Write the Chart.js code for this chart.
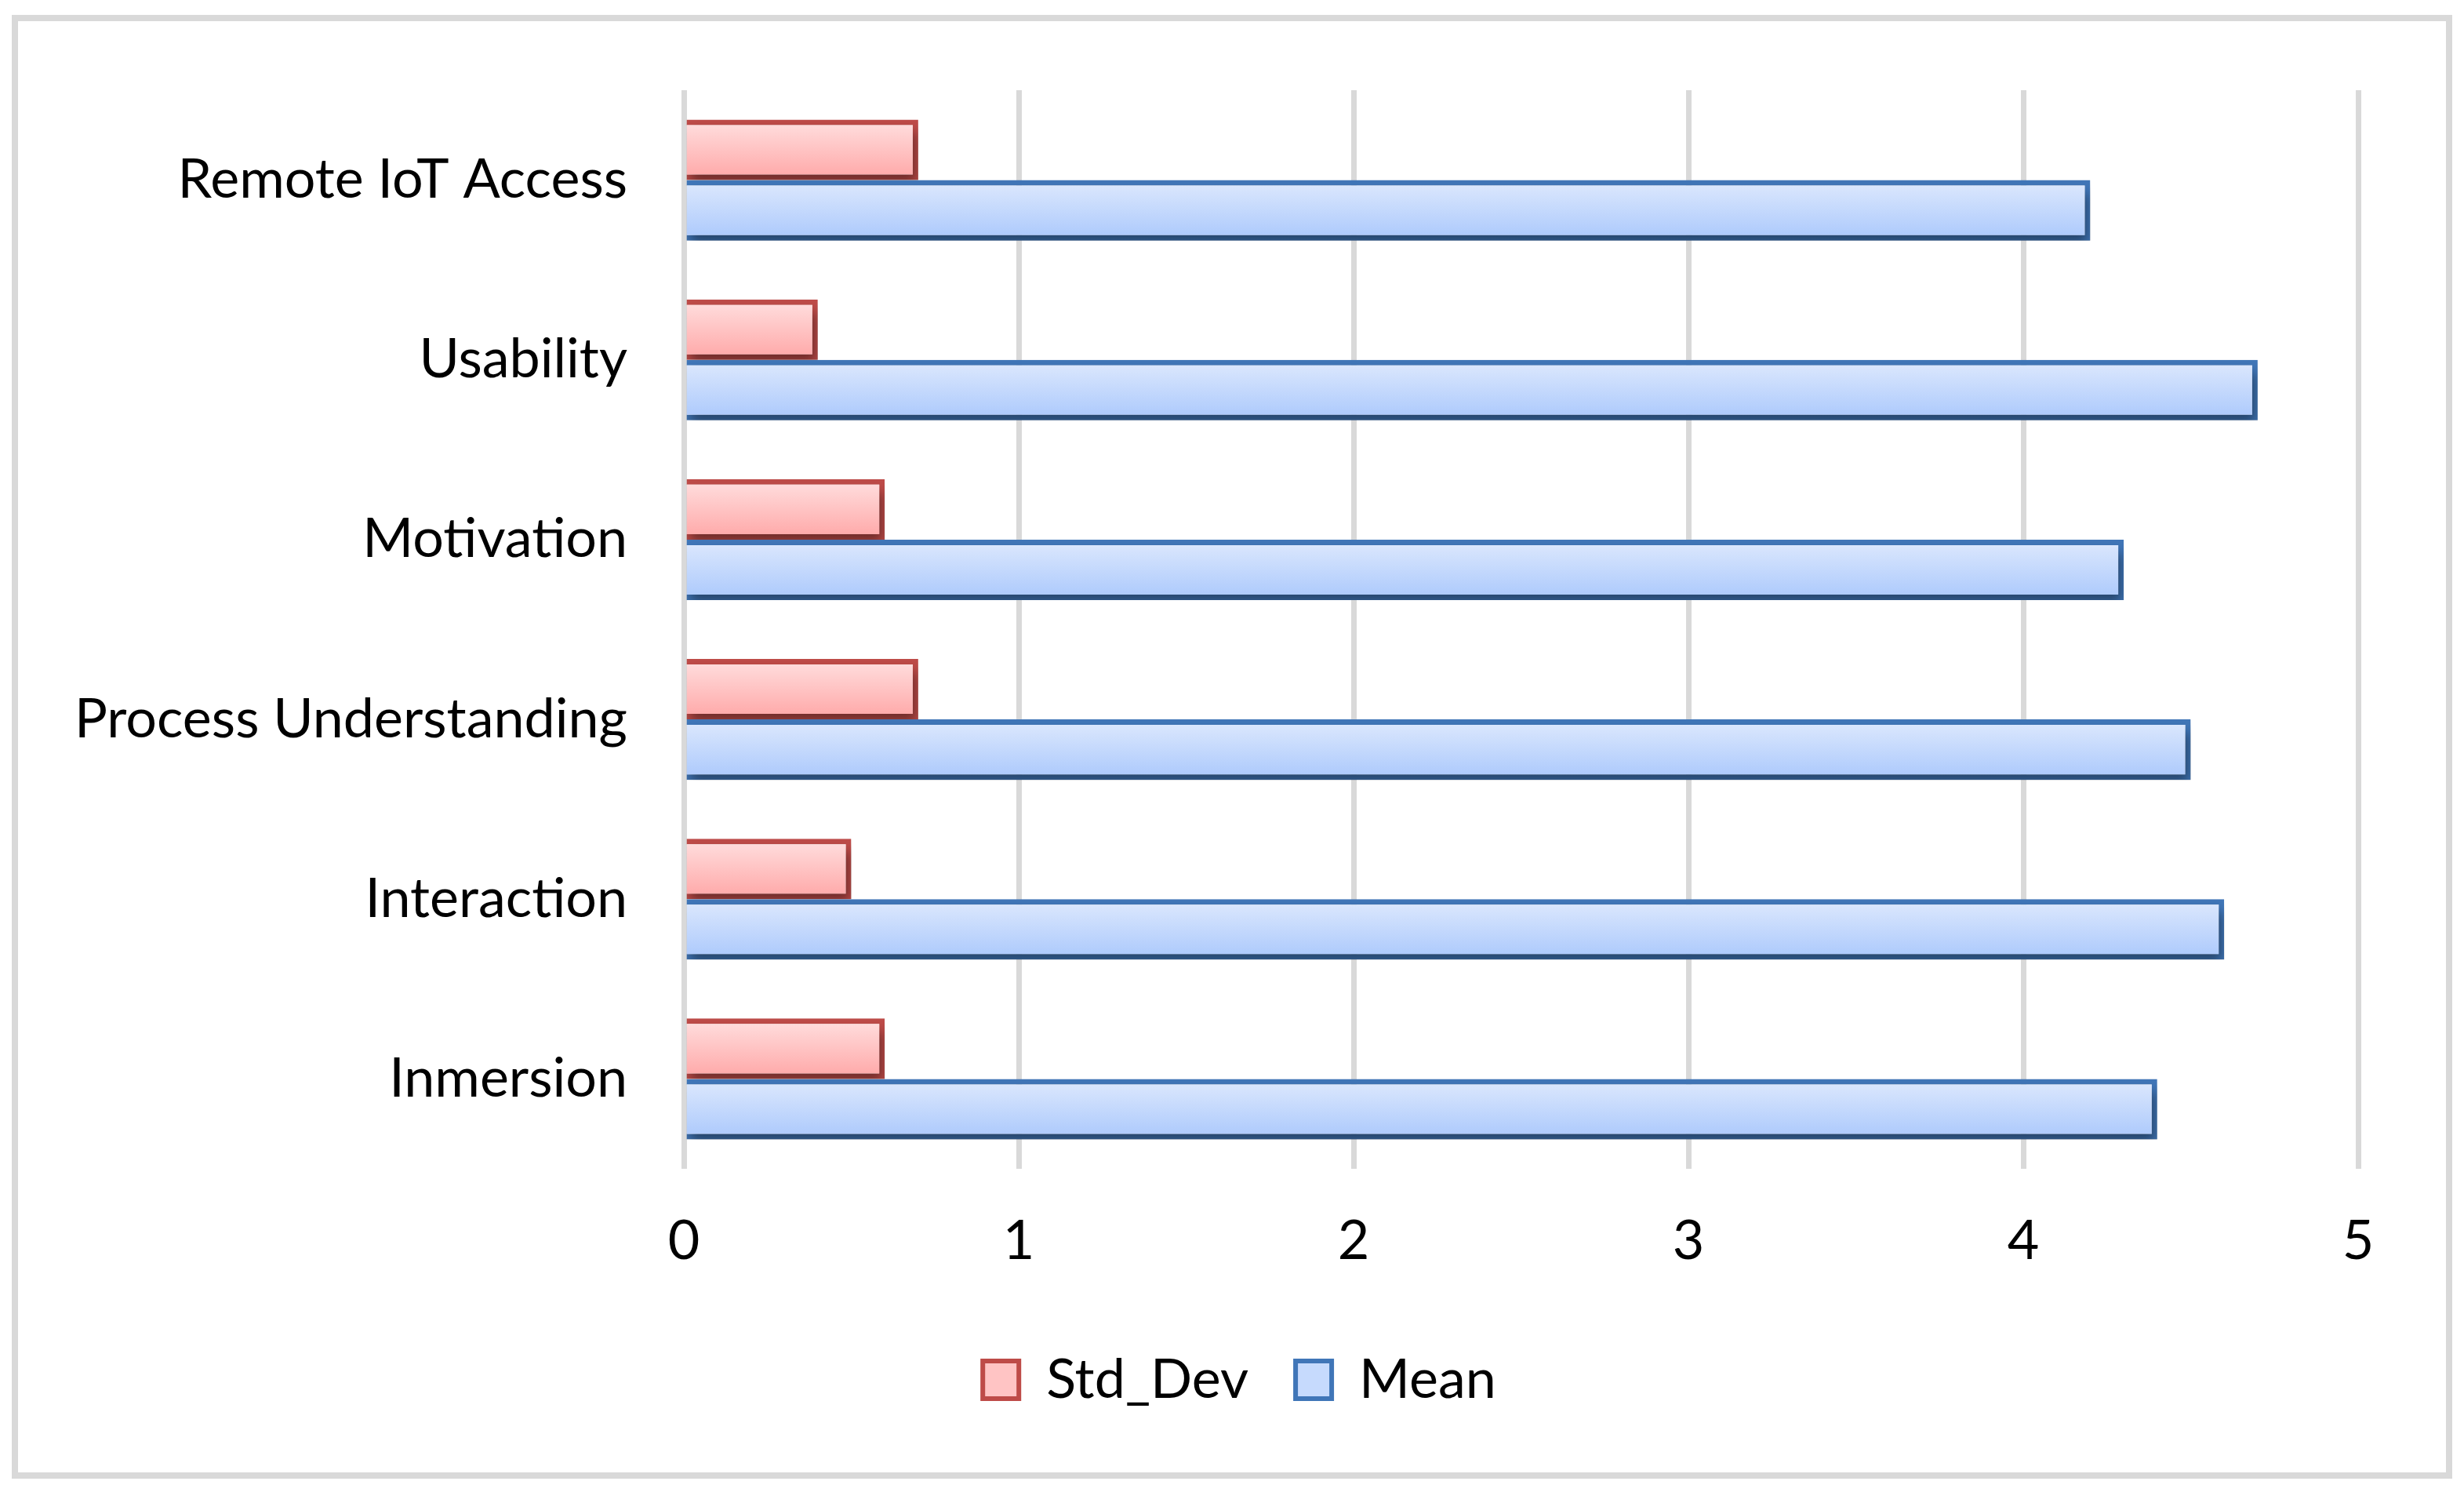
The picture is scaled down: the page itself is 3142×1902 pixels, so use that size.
<!DOCTYPE html>
<html>
<head>
<meta charset="utf-8">
<script src="https://cdn.jsdelivr.net/npm/chart.js@4.4.1/dist/chart.umd.min.js"></script>
<style>
  html, body { margin: 0; padding: 0; background: #ffffff; }
  #wrap { position: absolute; left: 0; top: 0; width: 3142px; height: 1902px; }
  #frame { position: absolute; left: 15px; top: 19px; width: 3096px; height: 1850px; border: 8px solid #d9d9d9; pointer-events: none; }
  canvas { position: absolute; left: 0; top: 0; }
</style>
</head>
<body>
<div id="wrap">
  <canvas id="c" width="3142" height="1902"></canvas>
  <div id="frame"></div>
</div>
<script>
const categories = ["Remote IoT Access", "Usability", "Motivation", "Process Understanding", "Interaction", "Inmersion"];
const stdDevValues = [0.7, 0.4, 0.6, 0.7, 0.5, 0.6];
const meanValues = [4.2, 4.7, 4.3, 4.5, 4.6, 4.4];
const seriesNames = ["Std_Dev", "Mean"];
const xTicks = [0, 1, 2, 3, 4, 5];

const CAT_PCT = 0.673;
const FONT = "Lato";
const LEGEND_SHIFT = 77;

function gradFill(context, dsIndex, topCol, botCol) {
  const chart = context.chart;
  const area = chart.chartArea;
  if (!area || context.dataIndex === undefined) return botCol;
  const yScale = chart.scales.y;
  const c = yScale.getPixelForValue(context.dataIndex);
  const cat = (area.bottom - area.top) / categories.length;
  const h = cat * CAT_PCT / 2;
  const y0 = dsIndex === 0 ? c - h : c;
  const g = chart.ctx.createLinearGradient(0, y0, 0, y0 + h);
  g.addColorStop(0, topCol);
  g.addColorStop(1, botCol);
  return g;
}

const shadowPlugin = {
  id: 'barShadow',
  beforeDatasetsDraw(chart) {
    const ctx = chart.ctx;
    ctx.save();
    ctx.shadowColor = 'rgba(0,0,0,0.42)';
    ctx.shadowBlur = 14;
    ctx.shadowOffsetX = 4;
    ctx.shadowOffsetY = 10;
  },
  afterDatasetsDraw(chart) {
    chart.ctx.restore();
  }
};

const legendShiftPlugin = {
  id: 'legendShift',
  afterLayout(chart) {
    const l = chart.legend;
    if (l) { l.left += LEGEND_SHIFT; l.right += LEGEND_SHIFT; }
  }
};

const bgPlugin = {
  id: 'whiteBg',
  beforeDraw(chart) {
    const ctx = chart.ctx;
    ctx.save();
    ctx.fillStyle = '#ffffff';
    ctx.fillRect(0, 0, chart.width, chart.height);
    ctx.restore();
  }
};

new Chart(document.getElementById('c'), {
  type: 'bar',
  data: {
    labels: categories,
    datasets: [
      {
        label: seriesNames[0],
        data: stdDevValues,
        backgroundColor: (ctx) => gradFill(ctx, 0, '#ffe0e0', '#ffa6a6'),
        borderColor: '#be4b48',
        borderWidth: 7,
        borderSkipped: 'start',
        categoryPercentage: CAT_PCT,
        barPercentage: 1.0
      },
      {
        label: seriesNames[1],
        data: meanValues,
        backgroundColor: (ctx) => gradFill(ctx, 1, '#dee9fd', '#aac8fc'),
        borderColor: '#4076b8',
        borderWidth: 7,
        borderSkipped: 'start',
        categoryPercentage: CAT_PCT,
        barPercentage: 1.0
      }
    ]
  },
  options: {
    indexAxis: 'y',
    responsive: false,
    animation: false,
    devicePixelRatio: 1,
    layout: { padding: { left: 0, right: 135, top: 115, bottom: 98 } },
    scales: {
      x: {
        min: xTicks[0],
        max: xTicks[xTicks.length - 1],
        afterBuildTicks(scale) { scale.ticks = xTicks.map(v => ({ value: v })); },
        afterFit(scale) { scale.height = 174; },
        grid: { color: '#d9d9d9', lineWidth: 7, drawTicks: false },
        border: { display: false },
        ticks: { color: '#000000', font: { family: FONT, size: 70 }, padding: 50 }
      },
      y: {
        afterFit(scale) { scale.width = 872; },
        grid: { display: false, drawTicks: false },
        border: { display: false },
        ticks: { color: '#000000', font: { family: FONT, size: 70 }, padding: 72 }
      }
    },
    plugins: {
      legend: {
        position: 'bottom',
        labels: {
          color: '#000000',
          font: { family: FONT, size: 70 },
          boxWidth: 46,
          boxHeight: 48,
          padding: 60,
          generateLabels(chart) {
            const fills = ['#ffc4c4', '#c6dafd'];
            return chart.data.datasets.map((ds, i) => ({
              text: ds.label,
              fillStyle: fills[i],
              strokeStyle: ds.borderColor,
              lineWidth: 6,
              hidden: false,
              datasetIndex: i,
              fontColor: '#000000'
            }));
          }
        }
      },
      tooltip: { enabled: false }
    }
  },
  plugins: [bgPlugin, shadowPlugin, legendShiftPlugin]
});
</script>
</body>
</html>
